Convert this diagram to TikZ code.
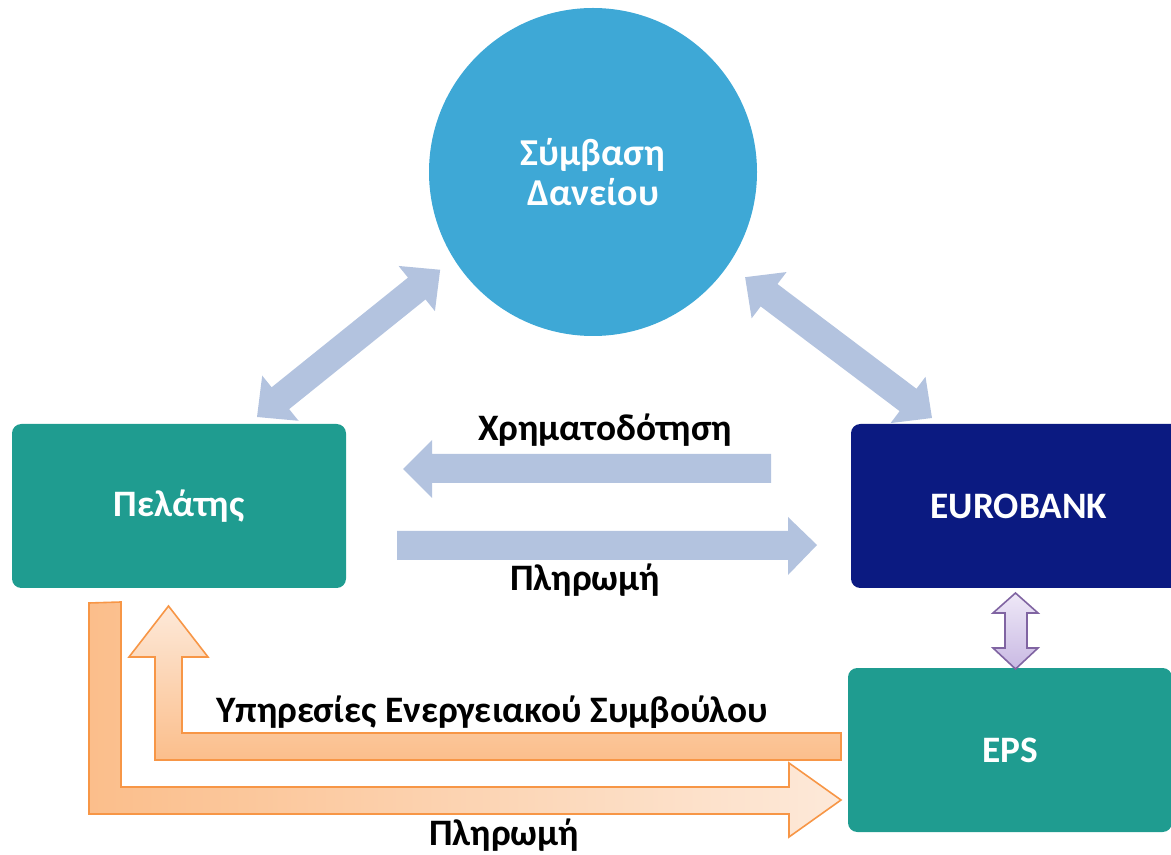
\documentclass[tikz,border=0pt]{standalone}
\usepackage{fontspec}
\setmainfont{Carlito}
\usetikzlibrary{positioning}
\definecolor{circleblue}{HTML}{3EA8D6}
\definecolor{tealbox}{HTML}{1F9C90}
\definecolor{navybox}{HTML}{0B1A81}
\definecolor{arrowblue}{HTML}{B3C3DF}
\definecolor{orangeline}{HTML}{F79646}
\definecolor{orangedark}{HTML}{FBBE8B}
\definecolor{orangelight}{HTML}{FDE9D9}
\definecolor{lilac}{HTML}{8064A2}
\definecolor{lilacdark}{HTML}{C9B9E3}
\definecolor{lilaclight}{HTML}{EEE8F7}
\tikzset{
  box/.style = {rectangle, rounded corners = 7pt, text = white, inner sep = 0pt,
    font = \fontsize{28}{30}\selectfont\bfseries},
  biglabel/.style = {font = \fontsize{28.5}{30}\selectfont\bfseries},
  label text/.style = {font = \fontsize{28}{30}\selectfont\bfseries, text = black},
  bluearrow/.style = {fill = arrowblue, draw = none},
  orangearrow/.style = {draw = orangeline, line width = 1.2pt, line join = miter}
}
\begin{document}
\begin{tikzpicture}[x = 0.75pt, y = 0.75pt]
  \useasboundingbox (0, 0) rectangle (1171, 854);
  % main parties
  \node [circle, fill = circleblue, minimum size = 246pt, inner sep = 0pt, align = center,
    text = white, biglabel] (symvasi) at (593, 682) {Σύμβαση\\Δανείου};
  \node [box, fill = tealbox, minimum width = 250.5pt, minimum height = 123pt] (pelatis) at (179, 348) {Πελάτης};
  \node [box, fill = navybox, minimum width = 252pt, minimum height = 123pt] (eurobank) at (1019, 348) {EUROBANK};
  \node [box, fill = tealbox, minimum width = 243pt, minimum height = 123pt] (eps) at (1010, 104) {EPS};
  % diagonal arrows to the contract
  \begin{scope}[shift = {(257, 437)}, rotate = 38.8]
    \fill [bluearrow] (0, 0) -- (30, 29) -- (30, 14) -- (205, 14) -- (205, 29) -- (235, 0)
      -- (205, -29) -- (205, -14) -- (30, -14) -- (30, -29) -- cycle;
  \end{scope}
  \begin{scope}[shift = {(932, 436)}, rotate = 143]
    \fill [bluearrow] (0, 0) -- (30, 29) -- (30, 14) -- (204, 14) -- (204, 29) -- (234, 0)
      -- (204, -29) -- (204, -14) -- (30, -14) -- (30, -29) -- cycle;
  \end{scope}
  % financing and payment
  \fill [bluearrow] (403, 385) -- (432, 414) -- (432, 400) -- (771, 400) -- (771, 371)
    -- (432, 371) -- (432, 356) -- cycle;
  \fill [bluearrow] (817, 309) -- (788, 337) -- (788, 323) -- (397, 323) -- (397, 294)
    -- (788, 294) -- (788, 279) -- cycle;
  \node [label text] (financing) at (605, 424) {Χρηματοδότηση};
  \node [label text] (payment) at (585, 274) {Πληρωμή};
  % eurobank - eps
  \shade [top color = lilaclight, bottom color = lilacdark, draw = lilac, line width = 1.2pt, line join = miter]
    (1015.5, 261) -- (1038, 241) -- (1027, 241) -- (1027, 206) -- (1038, 206) -- (1015.5, 185)
    -- (993, 206) -- (1005, 206) -- (1005, 241) -- (993, 241) -- cycle;
  % energy advisor arrows
  \shade [orangearrow, top color = orangelight, bottom color = orangedark]
    (841, 121) -- (182, 121) -- (182, 197) -- (208, 197) -- (168.5, 248) -- (129, 197)
    -- (155, 197) -- (155, 94) -- (841, 94) -- cycle;
  \shade [orangearrow, left color = orangedark, right color = orangelight]
    (89, 251) -- (121, 252) -- (121, 67) -- (789, 67) -- (789, 91) -- (841, 54)
    -- (789, 17) -- (789, 40) -- (89, 40) -- cycle;
  \node [label text] (services) at (492, 142) {Υπηρεσίες Ενεργειακού Συμβούλου};
  \node [label text] (payment2) at (504, 19) {Πληρωμή};
\end{tikzpicture}
\end{document}
